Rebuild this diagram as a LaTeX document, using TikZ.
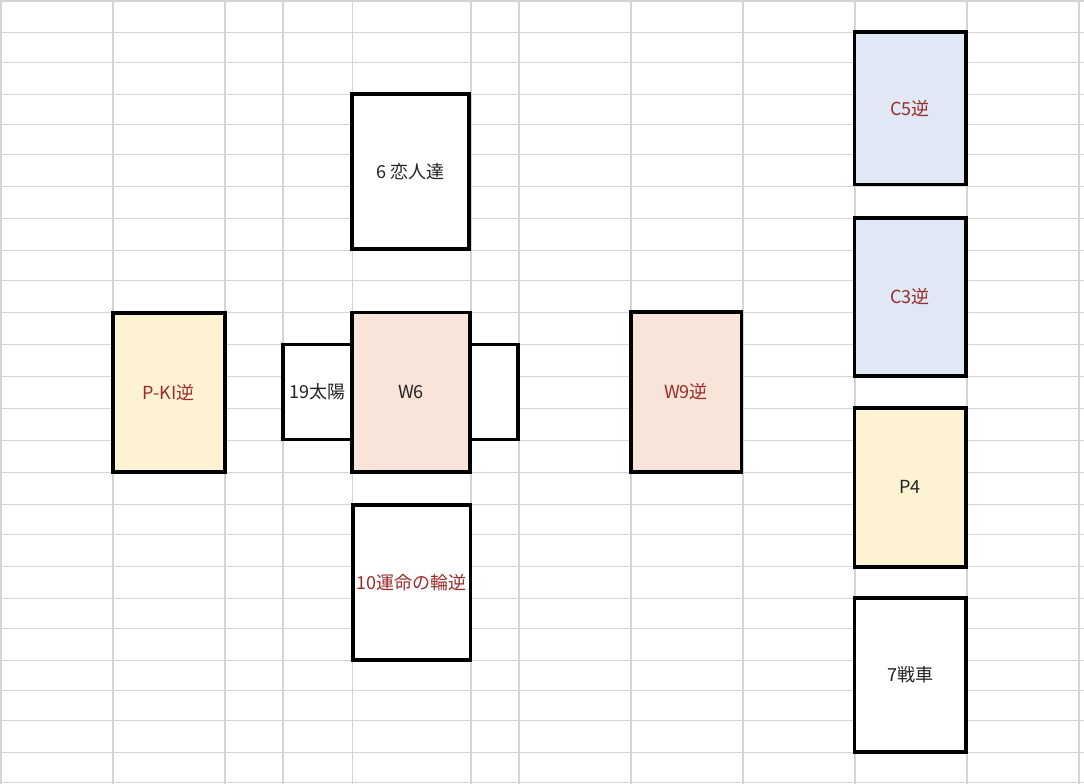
\documentclass[tikz,border=0pt]{standalone}
\usepackage{fontspec}
\setmainfont{Noto Sans CJK JP}
\definecolor{gridc}{HTML}{D4D4D4}
\definecolor{redtxt}{HTML}{9C2B2B}
\definecolor{blacktxt}{HTML}{222222}
\definecolor{peach}{HTML}{F8E4D8}
\definecolor{cream}{HTML}{FDF2D2}
\definecolor{paleblue}{HTML}{DFE8F4}
\tikzset{
  card/.style={draw=black, line width=3.6bp, rectangle, inner sep=0pt, outer sep=0pt,
    font=\fontsize{18bp}{21bp}\selectfont, text=blacktxt},
  rev/.style={text=redtxt},
  gridline/.style={draw=gridc, line width=1.8bp}
}
\begin{document}
\begin{tikzpicture}[x=1bp,y=-1bp]
\useasboundingbox (0,0) rectangle (1084,784);
\fill[white] (0,0) rectangle (1084,784);
% spreadsheet grid
\foreach \gx in {1,113,225,283,352.5,471,519,631,743,855,967,1079}
  \draw[gridline] (\gx,0) -- (\gx,784);
\foreach \gy in {1,32.5,62.5,94.5,124.5,154.5,186.5,218.5,250.5,280.5,312.5,344.5,376.5,408.5,440.5,472.5,504.5,534.5,566.5,598.5,628.5,660.5,690.5,720.5,752.5,782.5}
  \draw[gridline] (0,\gy) -- (1084,\gy);
% cards
\node[card, fill=white, minimum width=69.3bp, minimum height=95bp] (sun) at (317.35,391.8) {19太陽};
\node[card, fill=white, minimum width=47.7bp, minimum height=95bp] (rightcard) at (493.85,391.8) {};
\node[card, fill=peach, minimum width=118bp, minimum height=159.3bp] (w6) at (411,392.3) {W6};
\node[card, fill=white, minimum width=117bp, minimum height=155bp] (lovers) at (410.5,171.5) {6 恋人達};
\node[card, rev, fill=white, minimum width=117.6bp, minimum height=155bp] (wheel) at (411.5,582.2) {10運命の輪逆};
\node[card, rev, fill=cream, minimum width=112bp, minimum height=159.3bp] (pki) at (168.7,392.35) {P-KI逆};
\node[card, rev, fill=peach, minimum width=110.6bp, minimum height=159.7bp] (w9) at (686,391.85) {W9逆};
\node[card, rev, fill=paleblue, minimum width=111.7bp, minimum height=152.3bp] (c5) at (910.15,108.15) {C5逆};
\node[card, rev, fill=paleblue, minimum width=111.7bp, minimum height=157.7bp] (c3) at (910.15,296.85) {C3逆};
\node[card, fill=cream, minimum width=111.7bp, minimum height=158.7bp] (p4) at (910.15,487.35) {P4};
\node[card, fill=white, minimum width=111.7bp, minimum height=154bp] (chariot) at (910.15,675) {7戦車};
\end{tikzpicture}
\end{document}
